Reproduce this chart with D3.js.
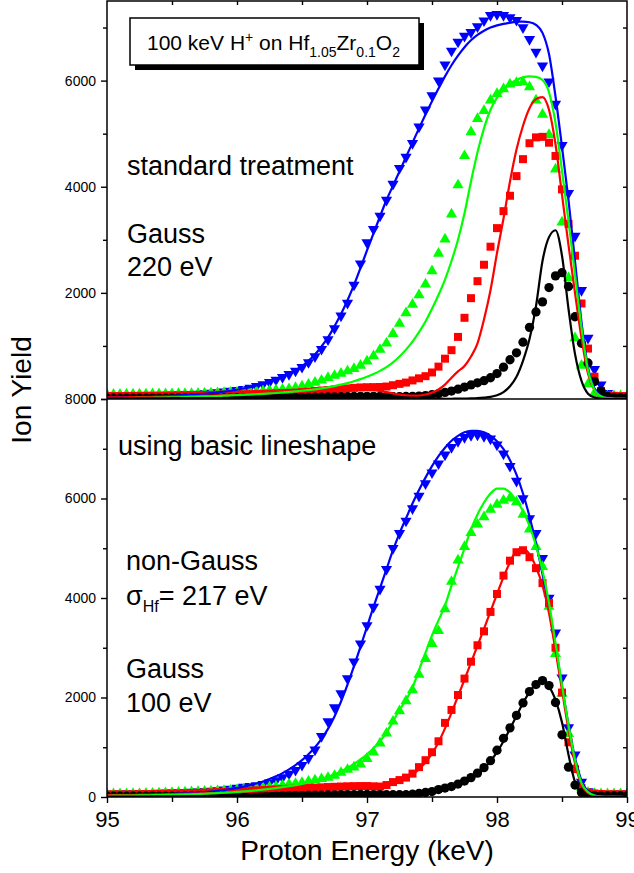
<!DOCTYPE html>
<html>
<head>
<meta charset="utf-8">
<script src="https://cdn.jsdelivr.net/npm/d3@7"></script>
<style>
body { margin: 0; background: #fff; }
text { font-family: "Liberation Sans", Arial, sans-serif; }
</style>
</head>
<body>
<svg id="chart" width="634" height="873"></svg>
<script>
//Energy grid (keV)
var energy = [
	95.00, 95.05, 95.10, 95.15, 95.20, 95.25, 95.30, 95.35, 95.40, 95.45,
	95.50, 95.55, 95.60, 95.65, 95.70, 95.75, 95.80, 95.85, 95.90, 95.95,
	96.00, 96.05, 96.10, 96.15, 96.20, 96.25, 96.30, 96.35, 96.40, 96.45,
	96.50, 96.55, 96.60, 96.65, 96.70, 96.75, 96.80, 96.85, 96.90, 96.95,
	97.00, 97.05, 97.10, 97.15, 97.20, 97.25, 97.30, 97.35, 97.40, 97.45,
	97.50, 97.55, 97.60, 97.65, 97.70, 97.75, 97.80, 97.85, 97.90, 97.95,
	98.00, 98.05, 98.10, 98.15, 98.20, 98.25, 98.30, 98.35, 98.40, 98.45,
	98.50, 98.55, 98.60, 98.65, 98.70, 98.75, 98.80, 98.85, 98.90, 98.95,
	99.00
];

//Upper panel: standard treatment (Gauss 220 eV)
var topBlueData = [
	50, 52, 54, 56, 58, 60, 63, 66, 69, 72,
	76, 80, 85, 90, 97, 105, 114, 124, 136, 150,
	166, 185, 210, 240, 275, 315, 360, 410, 465, 530,
	600, 690, 800, 940, 1120, 1330, 1570, 1810, 2150, 2550,
	2950, 3200, 3450, 3750, 4050, 4350, 4560, 4820, 5130, 5450,
	5720, 6000, 6300, 6560, 6730, 6840, 6910, 7020, 7130, 7230,
	7250, 7230, 7190, 7140, 7000, 6780, 6540, 6280, 5980, 5560,
	4780, 3880, 3070, 2050, 1150, 560, 270, 110, 60, 50,
	50
];
var topBlueFit = [
	30, 32, 34, 36, 38, 41, 44, 47, 51, 55,
	60, 66, 72, 80, 88, 98, 110, 123, 138, 155,
	175, 198, 225, 256, 290, 330, 375, 425, 480, 545,
	620, 720, 840, 990, 1160, 1370, 1600, 1860, 2150, 2470,
	2800, 3120, 3440, 3750, 4020, 4290, 4560, 4830, 5100, 5360,
	5610, 5850, 6080, 6290, 6470, 6630, 6760, 6860, 6940, 7000,
	7040, 7070, 7090, 7110, 7110, 7100, 7050, 6900, 6500, 5700,
	4750, 3750, 2600, 1450, 600, 200, 60, 20, 8, 5,
	5
];
var topGreenData = [
	105, 105, 106, 107, 108, 110, 111, 112, 113, 114,
	115, 117, 119, 121, 123, 126, 129, 132, 136, 140,
	145, 150, 156, 162, 170, 178, 188, 198, 210, 230,
	260, 295, 330, 370, 420, 460, 500, 545, 590, 650,
	730, 830, 950, 1070, 1250, 1440, 1640, 1800, 1980, 2180,
	2430, 2760, 3030, 3500, 4050, 4600, 5050, 5300, 5450, 5650,
	5770, 5860, 5950, 5980, 5990, 5900, 5650, 5380, 5000, 4350,
	3350, 2300, 1170, 650, 300, 130, 85, 75, 75, 75,
	75
];
var topGreenFit = [
	15, 16, 17, 18, 19, 20, 22, 24, 26, 28,
	30, 33, 36, 40, 44, 48, 52, 57, 62, 67,
	72, 78, 84, 90, 97, 105, 113, 122, 132, 143,
	155, 168, 183, 200, 220, 243, 270, 300, 335, 375,
	420, 470, 530, 600, 690, 800, 930, 1080, 1260, 1460,
	1700, 1960, 2250, 2600, 3000, 3500, 4100, 4650, 5100, 5450,
	5680, 5830, 5940, 6010, 6060, 6080, 6070, 6010, 5780, 5200,
	4300, 3350, 2350, 1350, 550, 170, 50, 15, 5, 2,
	0
];
var topRedData = [
	55, 55, 56, 57, 58, 59, 60, 61, 62, 64,
	66, 68, 70, 72, 74, 76, 78, 80, 82, 84,
	86, 89, 92, 95, 98, 102, 106, 110, 115, 120,
	130, 140, 150, 160, 170, 180, 190, 200, 210, 218,
	222, 224, 226, 235, 260, 285, 310, 350, 390, 430,
	500, 610, 760, 920, 1170, 1530, 1900, 2220, 2530, 2870,
	3220, 3540, 3830, 4200, 4520, 4820, 4930, 4940, 4830, 4580,
	3950, 3300, 2700, 1800, 950, 420, 150, 75, 60, 55,
	55
];
var topRedFit = [
	30, 31, 32, 33, 34, 35, 37, 39, 41, 43,
	45, 48, 51, 54, 57, 60, 64, 68, 72, 76,
	80, 85, 90, 95, 100, 106, 112, 118, 124, 130,
	136, 142, 148, 154, 160, 165, 170, 173, 175, 175,
	172, 165, 150, 130, 105, 82, 68, 62, 66, 85,
	120, 180, 270, 400, 520, 620, 800, 1050, 1500, 2050,
	2750, 3400, 4100, 4700, 5150, 5480, 5650, 5690, 5450, 4800,
	3850, 2900, 2000, 1150, 480, 160, 50, 15, 5, 2,
	0
];
var topBlackData = [
	15, 15, 15, 16, 16, 16, 17, 17, 18, 18,
	19, 19, 20, 20, 21, 21, 22, 22, 23, 23,
	24, 24, 25, 25, 26, 27, 28, 29, 30, 31,
	32, 33, 35, 37, 39, 41, 43, 45, 47, 49,
	50, 50, 49, 47, 45, 45, 47, 50, 55, 65,
	80, 100, 125, 150, 185, 225, 265, 305, 345, 400,
	480, 600, 740, 870, 1070, 1350, 1640, 1830, 2100, 2320,
	2380, 2120, 1550, 1050, 680, 330, 150, 50, 30, 25,
	25
];
var topBlackFit = [
	10, 10, 11, 11, 12, 12, 13, 13, 14, 14,
	15, 15, 16, 16, 17, 17, 18, 18, 19, 19,
	20, 20, 21, 21, 22, 23, 24, 25, 26, 27,
	28, 29, 30, 31, 32, 33, 35, 37, 40, 42,
	45, 44, 42, 39, 35, 30, 25, 20, 15, 11,
	8, 6, 5, 5, 6, 8, 10, 15, 25, 40,
	70, 130, 240, 420, 720, 1130, 1750, 2600, 3050, 3180,
	2700, 1700, 850, 340, 100, 30, 10, 3, 0, 0,
	0
];

//Lower panel: basic lineshape
var bottomBlueData = [
	60, 62, 64, 66, 68, 70, 73, 76, 80, 83,
	86, 90, 95, 100, 106, 113, 122, 133, 146, 160,
	180, 200, 215, 230, 255, 285, 330, 390, 465, 540,
	640, 780, 950, 1220, 1520, 1800, 2080, 2380, 2720, 3080,
	3450, 3820, 4180, 4580, 5000, 5300, 5550, 5800, 6050, 6300,
	6520, 6700, 6880, 7030, 7150, 7230, 7270, 7280, 7250, 7200,
	7080, 6900, 6650, 6350, 6000, 5600, 5300, 4800, 4000, 3300,
	2400, 1400, 850, 300, 110, 70, 60, 60, 60, 60,
	60
];
var bottomBlueFit = [
	30, 32, 34, 36, 38, 41, 44, 47, 51, 55,
	60, 66, 72, 80, 88, 98, 110, 124, 140, 160,
	182, 208, 238, 272, 312, 360, 415, 480, 555, 640,
	740, 860, 1000, 1170, 1370, 1620, 1920, 2260, 2630, 3020,
	3420, 3820, 4200, 4580, 4960, 5300, 5600, 5900, 6170, 6420,
	6650, 6850, 7020, 7160, 7260, 7330, 7360, 7360, 7330, 7260,
	7150, 6990, 6770, 6480, 6100, 5640, 5100, 4480, 3780, 3020,
	2230, 1450, 790, 330, 110, 35, 10, 5, 3, 2,
	2
];
var bottomGreenData = [
	80, 81, 82, 83, 85, 87, 90, 94, 98, 102,
	106, 110, 115, 120, 125, 130, 135, 140, 145, 150,
	160, 170, 180, 195, 205, 220, 235, 255, 275, 290,
	310, 335, 360, 385, 410, 450, 510, 570, 620, 680,
	790, 920, 1100, 1300, 1540, 1750, 1950, 2170, 2480, 2800,
	3100, 3360, 3800, 4350, 4780, 5050, 5330, 5500, 5650, 5800,
	5900, 5980, 6030, 5950, 5700, 5400, 5050, 4650, 3850, 2900,
	2100, 1290, 600, 210, 110, 85, 80, 80, 80, 80,
	80
];
var bottomGreenFit = [
	25, 26, 27, 28, 30, 32, 34, 36, 38, 41,
	44, 47, 51, 55, 60, 65, 71, 78, 85, 93,
	102, 112, 123, 135, 148, 163, 180, 198, 218, 240,
	265, 293, 325, 362, 405, 455, 515, 585, 665, 755,
	860, 980, 1120, 1300, 1520, 1750, 1950, 2200, 2550, 2900,
	3250, 3550, 3850, 4250, 4620, 5000, 5380, 5680, 5920, 6100,
	6200, 6200, 6120, 5950, 5750, 5450, 5050, 4550, 3900, 3100,
	2250, 1450, 750, 280, 100, 30, 10, 4, 2, 1,
	0
];
var bottomRedData = [
	50, 51, 52, 53, 54, 56, 58, 60, 62, 65,
	68, 71, 75, 79, 83, 88, 93, 98, 104, 110,
	116, 122, 128, 134, 140, 146, 152, 158, 164, 170,
	176, 182, 188, 194, 200, 205, 210, 215, 218, 220,
	220, 215, 210, 240, 300, 340, 390, 470, 600, 740,
	900, 1120, 1490, 1750, 2050, 2380, 2720, 3050, 3330, 3720,
	4080, 4450, 4750, 4920, 4960, 4820, 4600, 4300, 3900, 3000,
	2100, 1100, 560, 180, 90, 70, 60, 55, 55, 55,
	55
];
var bottomRedFit = [
	40, 41, 42, 43, 44, 46, 48, 50, 52, 55,
	58, 61, 64, 67, 70, 74, 78, 82, 86, 90,
	95, 100, 105, 110, 115, 120, 126, 132, 138, 144,
	150, 155, 160, 165, 170, 175, 180, 184, 187, 190,
	195, 200, 210, 230, 260, 305, 370, 450, 560, 700,
	870, 1100, 1380, 1690, 2030, 2360, 2700, 3040, 3380, 3730,
	4080, 4420, 4720, 4950, 5000, 4880, 4620, 4250, 3700, 2950,
	2150, 1350, 680, 250, 80, 25, 8, 3, 1, 0,
	0
];
var bottomBlackData = [
	15, 15, 15, 16, 16, 16, 17, 17, 18, 18,
	19, 19, 20, 20, 21, 21, 22, 22, 23, 23,
	24, 24, 25, 26, 27, 28, 29, 30, 31, 32,
	33, 35, 37, 39, 41, 43, 45, 47, 49, 50,
	50, 49, 48, 46, 45, 45, 46, 55, 70, 90,
	110, 150, 180, 210, 260, 320, 390, 480, 590, 730,
	940, 1180, 1390, 1640, 1890, 2120, 2260, 2340, 2240, 1900,
	1250, 600, 240, 90, 40, 25, 20, 20, 20, 20,
	20
];
var bottomBlackFit = [
	8, 8, 9, 9, 10, 10, 10, 11, 11, 12,
	12, 12, 13, 13, 14, 14, 15, 15, 16, 16,
	17, 17, 18, 18, 19, 20, 21, 22, 23, 24,
	25, 26, 27, 28, 29, 30, 31, 33, 35, 37,
	38, 38, 37, 36, 35, 35, 38, 44, 55, 72,
	95, 125, 160, 200, 250, 310, 380, 470, 580, 720,
	900, 1120, 1370, 1630, 1890, 2110, 2270, 2320, 2220, 1950,
	1500, 850, 300, 80, 20, 5, 2, 1, 0, 0,
	0
];

//Ticks
var xTicks = [95, 96, 97, 98, 99];
var xMinorTicks = [95.5, 96.5, 97.5, 98.5];
var xTopTicks = [95.5, 96, 96.5, 97, 97.5, 98, 98.5];
var topYTicks = [0, 2000, 4000, 6000];
var bottomYTicks = [0, 2000, 4000, 6000, 8000];
var yMinorTicks = [1000, 3000, 5000, 7000];
var yRightTicks = [1000, 2000, 3000, 4000, 5000, 6000, 7000];

var FONT = "'Liberation Sans', Arial, sans-serif";
var left = 107, right = 627;

var svg = d3.select("#chart");

var x = d3.scaleLinear().domain([95, 99]).range([left, right]);
var yTop = d3.scaleLinear().domain([0, 7500]).range([399, 1]);
var yBottom = d3.scaleLinear().domain([0, 8000]).range([797, 399]);

var symbols = {
	down: d3.symbol().type(d3.symbolTriangle).size(54),
	up: d3.symbol().type(d3.symbolTriangle).size(54),
	square: d3.symbol().type(d3.symbolSquare).size(64),
	circle: d3.symbol().type(d3.symbolCircle).size(68)
};

function makeSeries(blueD, blueF, greenD, greenF, redD, redF, blackD, blackF) {
	return [
		{ data: blueD, fit: blueF, color: "#0000ff", shape: "down" },
		{ data: greenD, fit: greenF, color: "#00ff00", shape: "up" },
		{ data: redD, fit: redF, color: "#ff0000", shape: "square" },
		{ data: blackD, fit: blackF, color: "#000000", shape: "circle" }
	];
}

var topSeries = makeSeries(topBlueData, topBlueFit, topGreenData, topGreenFit,
	topRedData, topRedFit, topBlackData, topBlackFit);
var bottomSeries = makeSeries(bottomBlueData, bottomBlueFit, bottomGreenData, bottomGreenFit,
	bottomRedData, bottomRedFit, bottomBlackData, bottomBlackFit);

function drawPanel(series, yScale, clipId) {
	var r = yScale.range();
	svg.append("clipPath").attr("id", clipId)
		.append("rect")
		.attr("x", left).attr("y", r[1])
		.attr("width", right - left).attr("height", r[0] - r[1]);

	var g = svg.append("g").attr("clip-path", "url(#" + clipId + ")");

	// markers
	series.forEach(function(s) {
		g.append("g").selectAll("path")
			.data(s.data)
			.enter().append("path")
			.attr("d", symbols[s.shape])
			.attr("transform", function(d, i) {
				var t = "translate(" + x(energy[i]) + "," + yScale(d) + ")";
				if (s.shape == "down") t += " rotate(180)";
				else if (s.shape == "up") t += " translate(0,1)";
				return t;
			})
			.attr("fill", s.color);
	});

	// fitted curves
	var line = d3.line()
		.x(function(d, i) { return x(energy[i]); })
		.y(function(d) { return yScale(d); })
		.curve(d3.curveMonotoneX);
	[0, 2, 1, 3].forEach(function(k) {
		g.append("path")
			.attr("d", line(series[k].fit))
			.attr("fill", "none")
			.attr("stroke", series[k].color)
			.attr("stroke-width", 2.2);
	});
}

drawPanel(topSeries, yTop, "clipTop");
drawPanel(bottomSeries, yBottom, "clipBottom");

// axes
function styleAxis(g, size) {
	g.select(".domain").remove();
	g.attr("font-family", FONT).attr("font-size", size);
	g.selectAll("line").attr("stroke-width", 1.4);
	g.selectAll("text").attr("fill", "#000");
}

var fmt = d3.format("d");

function leftAxis(yScale, major) {
	svg.append("g").attr("transform", "translate(" + left + ",0)")
		.call(d3.axisLeft(yScale).tickValues(major).tickSize(6).tickPadding(5).tickFormat(fmt))
		.call(styleAxis, 14);
	svg.append("g").attr("transform", "translate(" + left + ",0)")
		.call(d3.axisLeft(yScale).tickValues(yMinorTicks).tickSize(4).tickFormat(""))
		.call(styleAxis, 14);
	svg.append("g").attr("transform", "translate(" + right + ",0)")
		.call(d3.axisLeft(yScale).tickValues(yRightTicks).tickSize(4).tickFormat(""))
		.call(styleAxis, 14);
}
leftAxis(yTop, topYTicks);
leftAxis(yBottom, bottomYTicks);

svg.append("g").attr("transform", "translate(0,797)")
	.call(d3.axisBottom(x).tickValues(xTicks).tickSize(6).tickPadding(8).tickFormat(fmt))
	.call(styleAxis, 22);
svg.append("g").attr("transform", "translate(0,797)")
	.call(d3.axisBottom(x).tickValues(xMinorTicks).tickSize(5).tickFormat(""))
	.call(styleAxis, 22);
svg.append("g").attr("transform", "translate(0,1)")
	.call(d3.axisBottom(x).tickValues(xTopTicks).tickSize(4).tickFormat(""))
	.call(styleAxis, 22);

// frame
svg.append("rect")
	.attr("x", left).attr("y", 1)
	.attr("width", right - left).attr("height", 796)
	.attr("fill", "none").attr("stroke", "#000").attr("stroke-width", 1.5);
svg.append("line")
	.attr("x1", left).attr("x2", right)
	.attr("y1", 399).attr("y2", 399)
	.attr("stroke", "#000").attr("stroke-width", 1.5);

// axis titles
svg.append("text")
	.attr("x", (left + right) / 2).attr("y", 860)
	.attr("text-anchor", "middle").attr("font-size", 28)
	.text("Proton Energy (keV)");
svg.append("text")
	.attr("transform", "translate(31,390) rotate(-90)")
	.attr("text-anchor", "middle").attr("font-size", 28)
	.text("Ion Yield");

// title box with shadow
svg.append("rect")
	.attr("x", 135).attr("y", 23).attr("width", 289).attr("height", 47)
	.attr("fill", "#000");
svg.append("rect")
	.attr("x", 130).attr("y", 18).attr("width", 289).attr("height", 47)
	.attr("fill", "#fff").attr("stroke", "#000").attr("stroke-width", 1.5);

var title = svg.append("text").attr("x", 147).attr("y", 50).attr("font-size", 21);
var titleParts = [
	["100 keV H", 0, 21], ["+", -8, 14], [" on Hf", 8, 21], ["1.05", 7, 14],
	["Zr", -7, 21], ["0.1", 7, 14], ["O", -7, 21], ["2", 7, 14]
];
titleParts.forEach(function(p) {
	title.append("tspan").attr("dy", p[1]).attr("font-size", p[2]).text(p[0]);
});

// annotations
function note(tx, ty, str) {
	return svg.append("text").attr("x", tx).attr("y", ty).attr("font-size", 27).text(str);
}
note(127, 175, "standard treatment");
note(127, 243, "Gauss");
note(127, 276, "220 eV");
note(118, 455, "using basic lineshape");
note(126, 570, "non-Gauss");
var sigma = note(126, 605, "\u03c3");
sigma.append("tspan").attr("dy", 7).attr("font-size", 16).text("Hf");
sigma.append("tspan").attr("dy", -7).text("= 217 eV");
note(126, 678, "Gauss");
note(126, 712, "100 eV");
</script>
</body>
</html>
